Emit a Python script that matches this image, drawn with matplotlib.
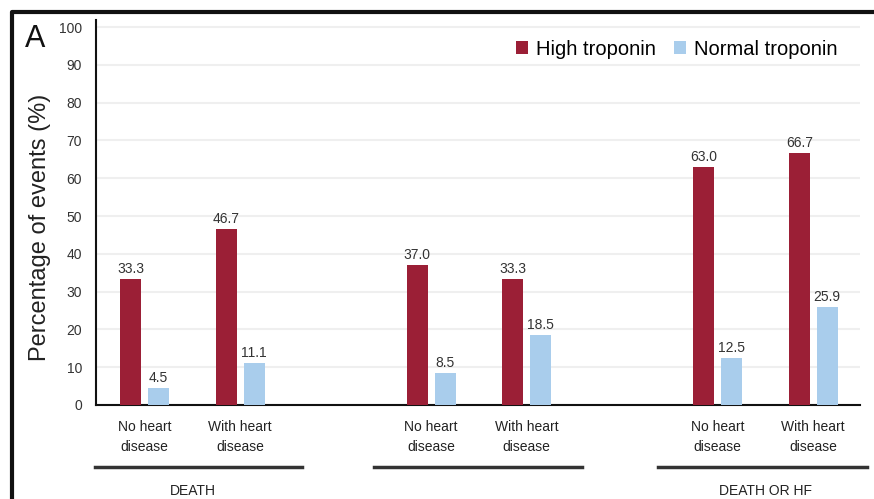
import matplotlib
matplotlib.use("Agg")
import matplotlib.pyplot as plt
from matplotlib.lines import Line2D
import matplotlib.transforms as mtransforms
import numpy as np

plt.rcParams['font.family'] = ['Liberation Sans', 'DejaVu Sans']

# ---- data ----
subgroups = ["No heart\ndisease", "With heart\ndisease"] * 3
groups = ["DEATH", "", "DEATH OR HF"]
high_troponin = [33.3, 46.7, 37.0, 33.3, 63.0, 66.7]
normal_troponin = [4.5, 11.1, 8.5, 18.5, 12.5, 25.9]
series_names = ["High troponin", "Normal troponin"]
yticks = list(range(0, 101, 10))

RED = "#9B1F36"
BLUE = "#A9CDEC"

fig = plt.figure(figsize=(8.74, 4.99), dpi=100)
ax = fig.add_axes([0.1098, 0.1884, 0.984 - 0.1098, 0.96 - 0.1884])

x = np.array([0, 1, 3, 4, 6, 7], dtype=float)
w = 0.22
off = 0.145
b1 = ax.bar(x - off, high_troponin, w, color=RED, label=series_names[0], zorder=3)
b2 = ax.bar(x + off, normal_troponin, w, color=BLUE, label=series_names[1], zorder=3)

for bars, vals in ((b1, high_troponin), (b2, normal_troponin)):
    for r, v in zip(bars, vals):
        ax.annotate(f"{v:.1f}", (r.get_x() + r.get_width() / 2, v),
                    xytext=(0, 2), textcoords="offset points",
                    ha="center", va="bottom", fontsize=10, color="#333333", zorder=4)

ax.set_xlim(-0.51, 7.49)
ax.set_ylim(0, 101.9)
ax.set_yticks(yticks)
ax.tick_params(axis="y", length=0, labelsize=10, colors="#333333", pad=10)
ax.tick_params(axis="x", length=0)
ax.set_xticks([])
ax.yaxis.grid(True, color="#EFEFEF", linewidth=1.5, zorder=0)
ax.set_axisbelow(True)
for s in ("top", "right"):
    ax.spines[s].set_visible(False)
for s in ("left", "bottom"):
    ax.spines[s].set_linewidth(1.5)
    ax.spines[s].set_color("#111111")

ax.set_ylabel("Percentage of events (%)", fontsize=17, color="#222222")
ax.yaxis.set_label_coords(-0.0589, 0.461)

# subgroup labels
trans = mtransforms.blended_transform_factory(ax.transData, ax.transAxes)
for xi, lab in zip(x, subgroups):
    ax.text(xi, -0.04, lab, transform=trans, ha="center", va="top",
            fontsize=10, color="#222222", linespacing=1.5)

# group underlines and labels
spans = [(-1.02, 1.15), (-1.1, 1.08), (-1.12, 1.06)]
for gi, g in enumerate(groups):
    c = (x[2 * gi] + x[2 * gi + 1]) / 2
    lo, hi = spans[gi]
    ax.add_line(Line2D([c + lo, c + hi], [-0.161, -0.161], transform=trans,
                       color="#333333", linewidth=2.5, clip_on=False))
    if g:
        ax.text(c, -0.205, g, transform=trans, ha="center", va="top",
                fontsize=10, color="#222222")

ax.legend(loc="upper right", bbox_to_anchor=(0.981, 0.970), frameon=False, ncol=2,
          fontsize=14.5, handlelength=0.6, handleheight=0.6, handletextpad=0.4,
          columnspacing=0.9, borderaxespad=0)

fig.text(0.04, 0.922, "A", fontsize=22, ha="center", va="center", color="#111111")

# figure frame (left and top visible)
fig.add_artist(Line2D([0.0137, 0.0137, 1.0], [0.0, 0.975, 0.975],
                      transform=fig.transFigure, color="#111111", linewidth=3))

fig.savefig("out.png", dpi=100)
